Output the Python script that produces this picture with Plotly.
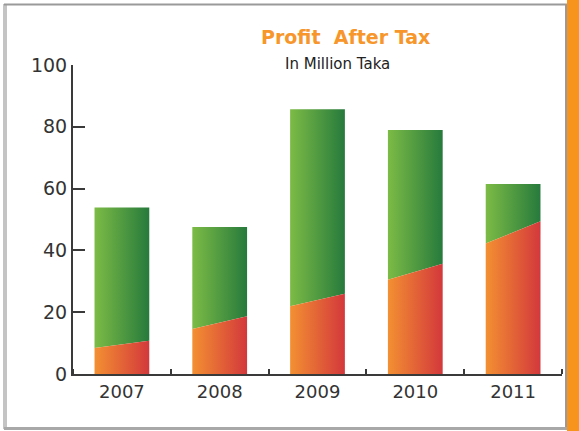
import plotly.graph_objects as go

# Profit after tax (million Taka) per year
years = ["2007", "2008", "2009", "2010", "2011"]
profit = [53.9, 47.6, 85.7, 79.0, 61.5]
# Height of the lower (orange) band at the left and right edges of each bar
band_left = [8.4, 14.6, 21.9, 30.5, 42.2]
band_right = [10.8, 18.7, 26.0, 35.7, 49.4]

y_ticks = [0, 20, 40, 60, 80, 100]

HALF = 0.28
GREEN = [[0, "#7cbb45"], [1, "#267a3c"]]
ORANGE = [[0, "#f39032"], [1, "#d3383b"]]

fig = go.Figure()

for i, (top, bl, br) in enumerate(zip(profit, band_left, band_right)):
    x0, x1 = i - HALF, i + HALF
    # upper green part
    fig.add_trace(go.Scatter(
        x=[x0, x1, x1, x0, x0], y=[bl, br, top, top, bl],
        mode="lines", fill="toself", line=dict(width=0),
        fillgradient=dict(type="horizontal", colorscale=GREEN),
        hoverinfo="skip", showlegend=False))
    # lower orange part with slanted top edge
    fig.add_trace(go.Scatter(
        x=[x0, x1, x1, x0, x0], y=[0, 0, br, bl, 0],
        mode="lines", fill="toself", line=dict(width=0),
        fillgradient=dict(type="horizontal", colorscale=ORANGE),
        hoverinfo="skip", showlegend=False))

L, R, T, B = 73, 17, 65, 57
W, H = 579, 431
pw, ph = W - L - R, H - T - B


def px_x(p):
    return (p - L) / pw


def px_y(p):
    return (H - B - p) / ph


shapes = [
    # orange band on the right edge
    dict(type="rect", xref="paper", yref="paper",
         x0=px_x(567), x1=px_x(582), y0=px_y(-5), y1=px_y(440),
         fillcolor="#f7941d", line=dict(width=0), layer="below"),
    # grey frame
    dict(type="line", xref="paper", yref="paper",
         x0=px_x(5), x1=px_x(5), y0=px_y(4), y1=px_y(429),
         line=dict(color="#c4c4c4", width=4)),
    dict(type="line", xref="paper", yref="paper",
         x0=px_x(4), x1=px_x(567), y0=px_y(4.5), y1=px_y(4.5),
         line=dict(color="#9a9a9a", width=2)),
    dict(type="line", xref="paper", yref="paper",
         x0=px_x(566), x1=px_x(566), y0=px_y(4), y1=px_y(429),
         line=dict(color="#9a9a9a", width=2)),
    dict(type="line", xref="paper", yref="paper",
         x0=px_x(4), x1=px_x(567), y0=px_y(428.5), y1=px_y(428.5),
         line=dict(color="#a8a8a8", width=3)),
]

fig.update_layout(
    width=W, height=H,
    margin=dict(l=L, r=R, t=T, b=B),
    paper_bgcolor="white", plot_bgcolor="white",
    shapes=shapes,
    font=dict(family="DejaVu Sans", color="#333333"),
    annotations=[
        dict(text="<b>Profit  After Tax</b>", xref="paper", yref="paper",
             x=px_x(345), y=px_y(37), xanchor="center", yanchor="middle",
             showarrow=False, font=dict(size=19, color="#f7962a")),
        dict(text="In Million Taka", xref="paper", yref="paper",
             x=px_x(337), y=px_y(64), xanchor="center", yanchor="middle",
             showarrow=False, font=dict(size=15, color="#222222")),
    ],
    xaxis=dict(
        range=[-0.5, 4.5], tickmode="array",
        tickvals=list(range(len(years))), ticktext=years,
        ticks="", showgrid=False, zeroline=False,
        showline=True, linecolor="#3a3a3a", linewidth=2,
        tickfont=dict(size=18, color="#333333"),
        minor=dict(tickmode="array",
                   tickvals=[k - 0.5 for k in range(len(years) + 1)],
                   ticks="inside", ticklen=5, tickwidth=2,
                   tickcolor="#3a3a3a", showgrid=False),
        fixedrange=True,
    ),
    yaxis=dict(
        range=[0, 100], tickmode="array", tickvals=y_ticks,
        ticks="inside", ticklen=12, tickwidth=2, tickcolor="#3a3a3a",
        showgrid=False, zeroline=False,
        showline=True, linecolor="#3a3a3a", linewidth=2,
        tickfont=dict(size=19, color="#333333"),
        fixedrange=True,
    ),
)

fig.write_html("out.html")
